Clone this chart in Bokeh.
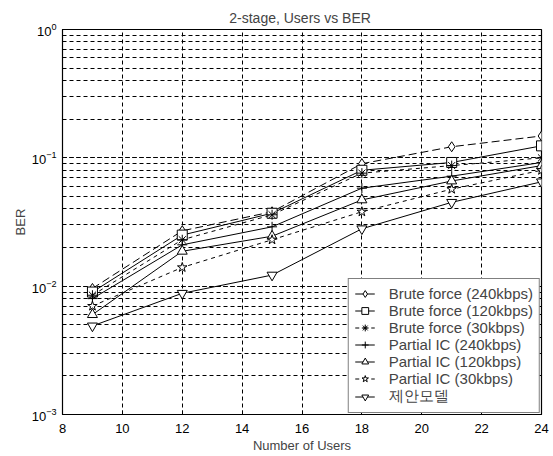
from bokeh.plotting import figure
from bokeh.models import Range1d, FixedTicker, LogTicker, Legend, LegendItem
from bokeh.embed import file_html
from bokeh.resources import INLINE

users = [9, 12, 15, 18, 21, 24]
bf_240 = [0.0096, 0.027, 0.038, 0.090, 0.122, 0.148]
bf_120 = [0.0090, 0.025, 0.037, 0.080, 0.092, 0.124]
bf_30 = [0.0085, 0.023, 0.036, 0.076, 0.087, 0.100]
pic_240 = [0.0080, 0.021, 0.029, 0.058, 0.072, 0.092]
pic_120 = [0.0060, 0.0187, 0.0245, 0.047, 0.066, 0.087]
pic_30 = [0.0070, 0.0140, 0.023, 0.038, 0.057, 0.080]
proposed = [0.0049, 0.0088, 0.0122, 0.028, 0.045, 0.065]

series = [
    ("Brute force (240kbps)", bf_240, "diamond", "8 4"),
    ("Brute force (120kbps)", bf_120, "square", "solid"),
    ("Brute force (30kbps)", bf_30, "asterisk", "4 4"),
    ("Partial IC (240kbps)", pic_240, "cross", "solid"),
    ("Partial IC (120kbps)", pic_120, "triangle", "solid"),
    ("Partial IC (30kbps)", pic_30, "star", "4 4"),
    ("제안모델", proposed, "inverted_triangle", "solid"),
]

FONT = "Liberation Sans"

p = figure(width=553, height=456, output_backend="svg", toolbar_location=None,
           y_axis_type="log", x_range=Range1d(8, 24), y_range=Range1d(1e-3, 1),
           title="2-stage, Users vs  BER",
           min_border_left=62, min_border_right=12, min_border_top=29, min_border_bottom=42)

p.title.align = "center"
p.title.text_font = FONT
p.title.text_font_style = "normal"
p.title.text_font_size = "14px"
p.title.standoff = 8
p.outline_line_color = "black"
p.outline_line_width = 1.2

p.xaxis.ticker = FixedTicker(ticks=[8, 10, 12, 14, 16, 18, 20, 22, 24])
p.yaxis.ticker = LogTicker(num_minor_ticks=10)
for ax in (p.xaxis, p.yaxis):
    ax.major_tick_in = 4
    ax.major_tick_out = 0
    ax.minor_tick_in = 2
    ax.minor_tick_out = 0
    ax.major_label_text_font = FONT
    ax.major_label_text_font_size = "13px"
    ax.major_label_text_color = "black"
    ax.axis_label_text_font = FONT
    ax.axis_label_text_font_style = "normal"
    ax.axis_label_text_font_size = "13px"
    ax.axis_line_color = "black"
p.xaxis.axis_label = "Number of Users"
p.yaxis.axis_label = "BER"
p.xaxis.major_label_standoff = 9
p.xaxis.axis_label_standoff = 2
p.yaxis.major_label_standoff = 6
p.yaxis.axis_label_standoff = 1
p.xaxis.minor_tick_line_color = None

p.xgrid.grid_line_color = "black"
p.xgrid.grid_line_dash = "4 3"
p.xgrid.grid_line_width = 1
p.ygrid.grid_line_color = "black"
p.ygrid.grid_line_dash = "4 3"
p.ygrid.minor_grid_line_color = "black"
p.ygrid.minor_grid_line_dash = "4 3"

items = []
for name, vals, marker, dash in series:
    r1 = p.line(users, vals, line_color="black", line_width=1, line_dash=dash)
    r2 = p.scatter(users, vals, marker=marker, size=10, line_color="black",
                   fill_color="white", line_width=1)
    items.append(LegendItem(label=name, renderers=[r1, r2]))

legend = Legend(items=items, location="bottom_right")
legend.label_text_font = FONT
legend.label_text_font_size = "15px"
legend.border_line_color = "black"
legend.border_line_width = 1.2
legend.background_fill_alpha = 1
legend.spacing = 0
legend.padding = 6
legend.margin = 1
legend.glyph_width = 20
legend.label_height = 17
legend.glyph_height = 17
legend.label_standoff = 14
p.add_layout(legend)

open("out.html", "w").write(file_html(p, INLINE))
